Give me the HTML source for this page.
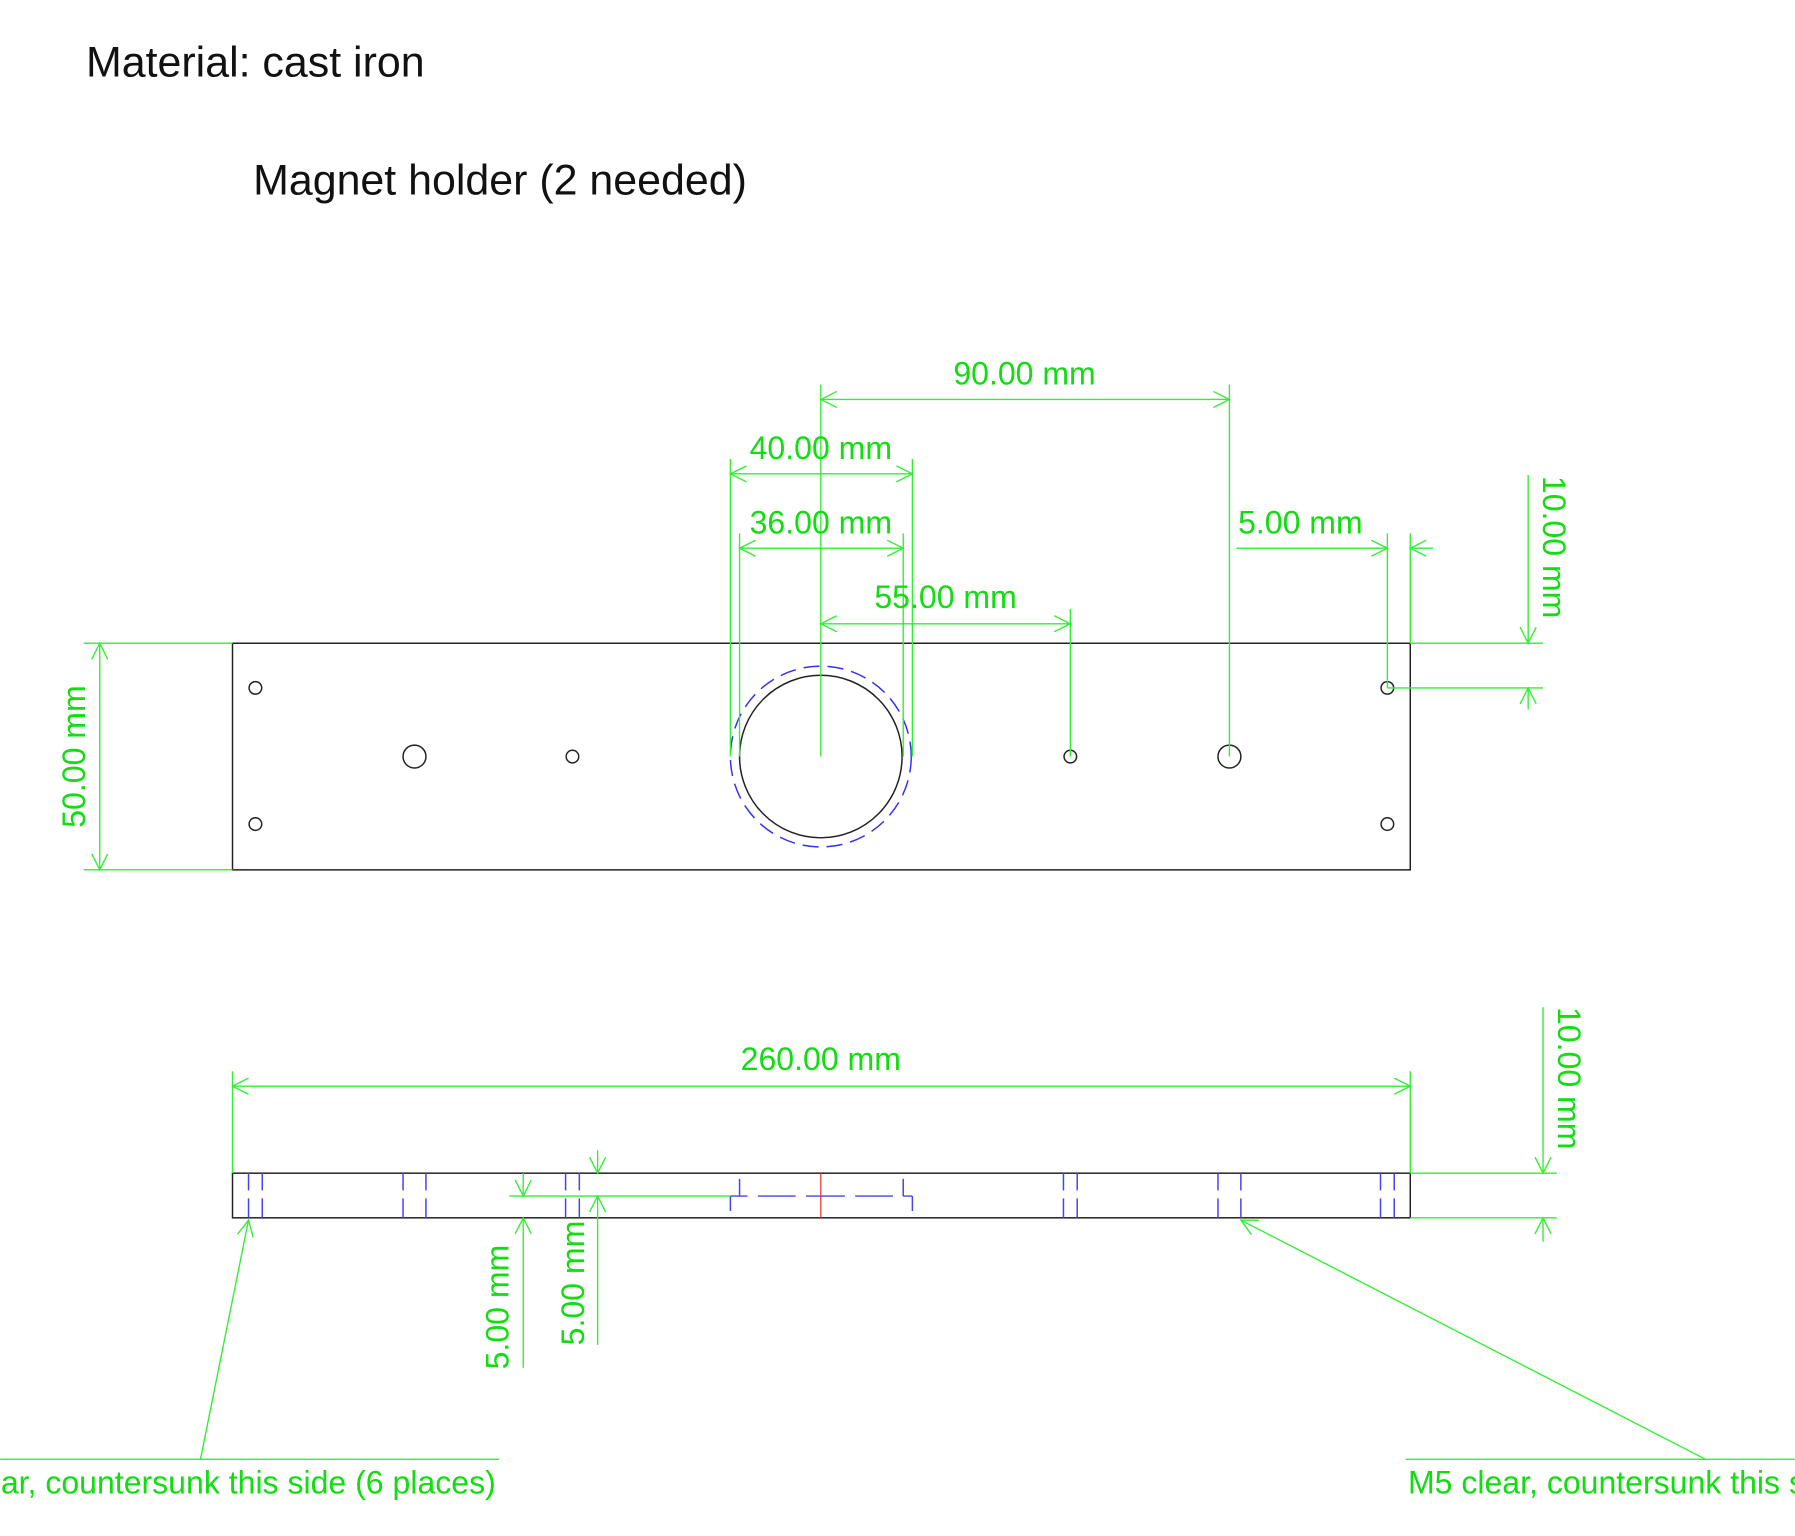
<!DOCTYPE html>
<html><head><meta charset="utf-8"><style>
html,body{margin:0;padding:0;background:#fff;width:1795px;height:1536px;overflow:hidden}
svg{display:block}
text{font-family:"Liberation Sans",sans-serif}
.g{stroke:#33ee33;stroke-width:1.2;fill:none}
.t{fill:#11dd11;font-size:28px}
.k{stroke:#222;stroke-width:1.3;fill:none}
.b{stroke:#3333ee;stroke-width:1.3;fill:none;stroke-dasharray:14,7}
</style></head><body>
<svg width="1795" height="1536" viewBox="0 0 1568 1342" xmlns="http://www.w3.org/2000/svg">
<defs>
<marker id="a" viewBox="-15 -8 16 16" refX="0" refY="0" markerWidth="16" markerHeight="16" markerUnits="userSpaceOnUse" orient="auto-start-reverse">
<path d="M-14,-7 L0,0 L-14,7" fill="none" stroke="#33ee33" stroke-width="1.2"/>
</marker>
</defs>
<text x="75" y="67" font-size="37.5" fill="#111">Material: cast iron</text>
<text x="221" y="170" font-size="37.5" fill="#111">Magnet holder (2 needed)</text>

<!-- top view -->
<rect class="k" x="203" y="562" width="1029" height="198"/>
<circle class="k" cx="717" cy="661" r="71"/>
<circle class="b" cx="717" cy="661" r="79"/>
<g class="k">
<circle cx="223" cy="601" r="5.5"/><circle cx="223" cy="720" r="5.5"/>
<circle cx="1212" cy="601" r="5.5"/><circle cx="1212" cy="720" r="5.5"/>
<circle cx="500" cy="661" r="5.5"/><circle cx="935" cy="661" r="5.5"/>
<circle cx="362" cy="661" r="10"/><circle cx="1074" cy="661" r="10"/>
</g>
<g class="g">
<path d="M717,336V661M1074,336V661M638,401V661M797,401V661M646,466V661M789,466V661M935,532V661M1212,466V601M1232,466V562"/>
<path d="M717,349H1074" marker-start="url(#a)" marker-end="url(#a)"/>
<path d="M638,414H797" marker-start="url(#a)" marker-end="url(#a)"/>
<path d="M646,479H789" marker-start="url(#a)" marker-end="url(#a)"/>
<path d="M717,545H935" marker-start="url(#a)" marker-end="url(#a)"/>
<path d="M1080,479H1212" marker-end="url(#a)"/>
<path d="M1252,479H1232" marker-end="url(#a)"/>
<path d="M1232,562H1348M1212,601H1348"/>
<path d="M1335,415V562" marker-end="url(#a)"/>
<path d="M1335,620V601" marker-end="url(#a)"/>
<path d="M73,562H203M73,760H203"/>
<path d="M87,562V760" marker-start="url(#a)" marker-end="url(#a)"/>
</g>
<g class="t">
<text x="895" y="336" text-anchor="middle">90.00 mm</text>
<text x="717" y="401" text-anchor="middle">40.00 mm</text>
<text x="717" y="466" text-anchor="middle">36.00 mm</text>
<text x="826" y="531" text-anchor="middle">55.00 mm</text>
<text x="1136" y="466" text-anchor="middle">5.00 mm</text>
<text x="717" y="935" text-anchor="middle">260.00 mm</text>
<text transform="translate(1348,478) rotate(90)" text-anchor="middle">10.00 mm</text>
<text transform="translate(74,661) rotate(-90)" text-anchor="middle">50.00 mm</text>
<text transform="translate(1361,942) rotate(90)" text-anchor="middle">10.00 mm</text>
<text transform="translate(444,1142) rotate(-90)" text-anchor="middle">5.00 mm</text>
<text transform="translate(510,1121) rotate(-90)" text-anchor="middle">5.00 mm</text>
<text x="433" y="1305" text-anchor="end">M5 clear, countersunk this side (6 places)</text>
<text x="1230" y="1305">M5 clear, countersunk this side (6 places)</text>
</g>

<!-- side view -->
<rect class="k" x="203" y="1025" width="1029" height="39"/>
<g stroke="#4444ee" stroke-width="1.3" fill="none">
<path d="M217,1025V1040M217,1047V1064M229,1025V1040M229,1047V1064"/>
<path d="M352,1025V1040M352,1047V1064M372,1025V1040M372,1047V1064"/>
<path d="M494,1025V1040M494,1047V1064M506,1025V1040M506,1047V1064"/>
<path d="M929,1025V1040M929,1047V1064M941,1025V1040M941,1047V1064"/>
<path d="M1064,1025V1040M1064,1047V1064M1084,1025V1040M1084,1047V1064"/>
<path d="M1206,1025V1040M1206,1047V1064M1218,1025V1040M1218,1047V1064"/>
<path d="M646,1030V1045M789,1030V1045M638,1045V1058M797,1045V1058"/>
<path d="M638,1045H653M662,1045H695M704,1045H738M747,1045H780M789,1045H797"/>
</g>
<path d="M717,1025V1064" stroke="#ee2222" stroke-width="1"/>
<g class="g">
<path d="M203,936V1025M1232,936V1025"/>
<path d="M203,949H1232" marker-start="url(#a)" marker-end="url(#a)"/>
<path d="M1232,1025H1360M1232,1064H1360"/>
<path d="M1348,880V1025" marker-end="url(#a)"/>
<path d="M1348,1085V1064" marker-end="url(#a)"/>
<path d="M445,1045H638"/>
<path d="M457,1025V1045" marker-end="url(#a)"/>
<path d="M457,1195V1064" marker-end="url(#a)"/>
<path d="M522,1005V1025" marker-end="url(#a)"/>
<path d="M522,1175V1045" marker-end="url(#a)"/>
<path d="M175,1275L217,1066" marker-end="url(#a)"/>
<path d="M0,1275H436"/>
<path d="M1490,1275L1084,1066" marker-end="url(#a)"/>
<path d="M1228,1275H1568"/>
</g>
</svg>
</body></html>
